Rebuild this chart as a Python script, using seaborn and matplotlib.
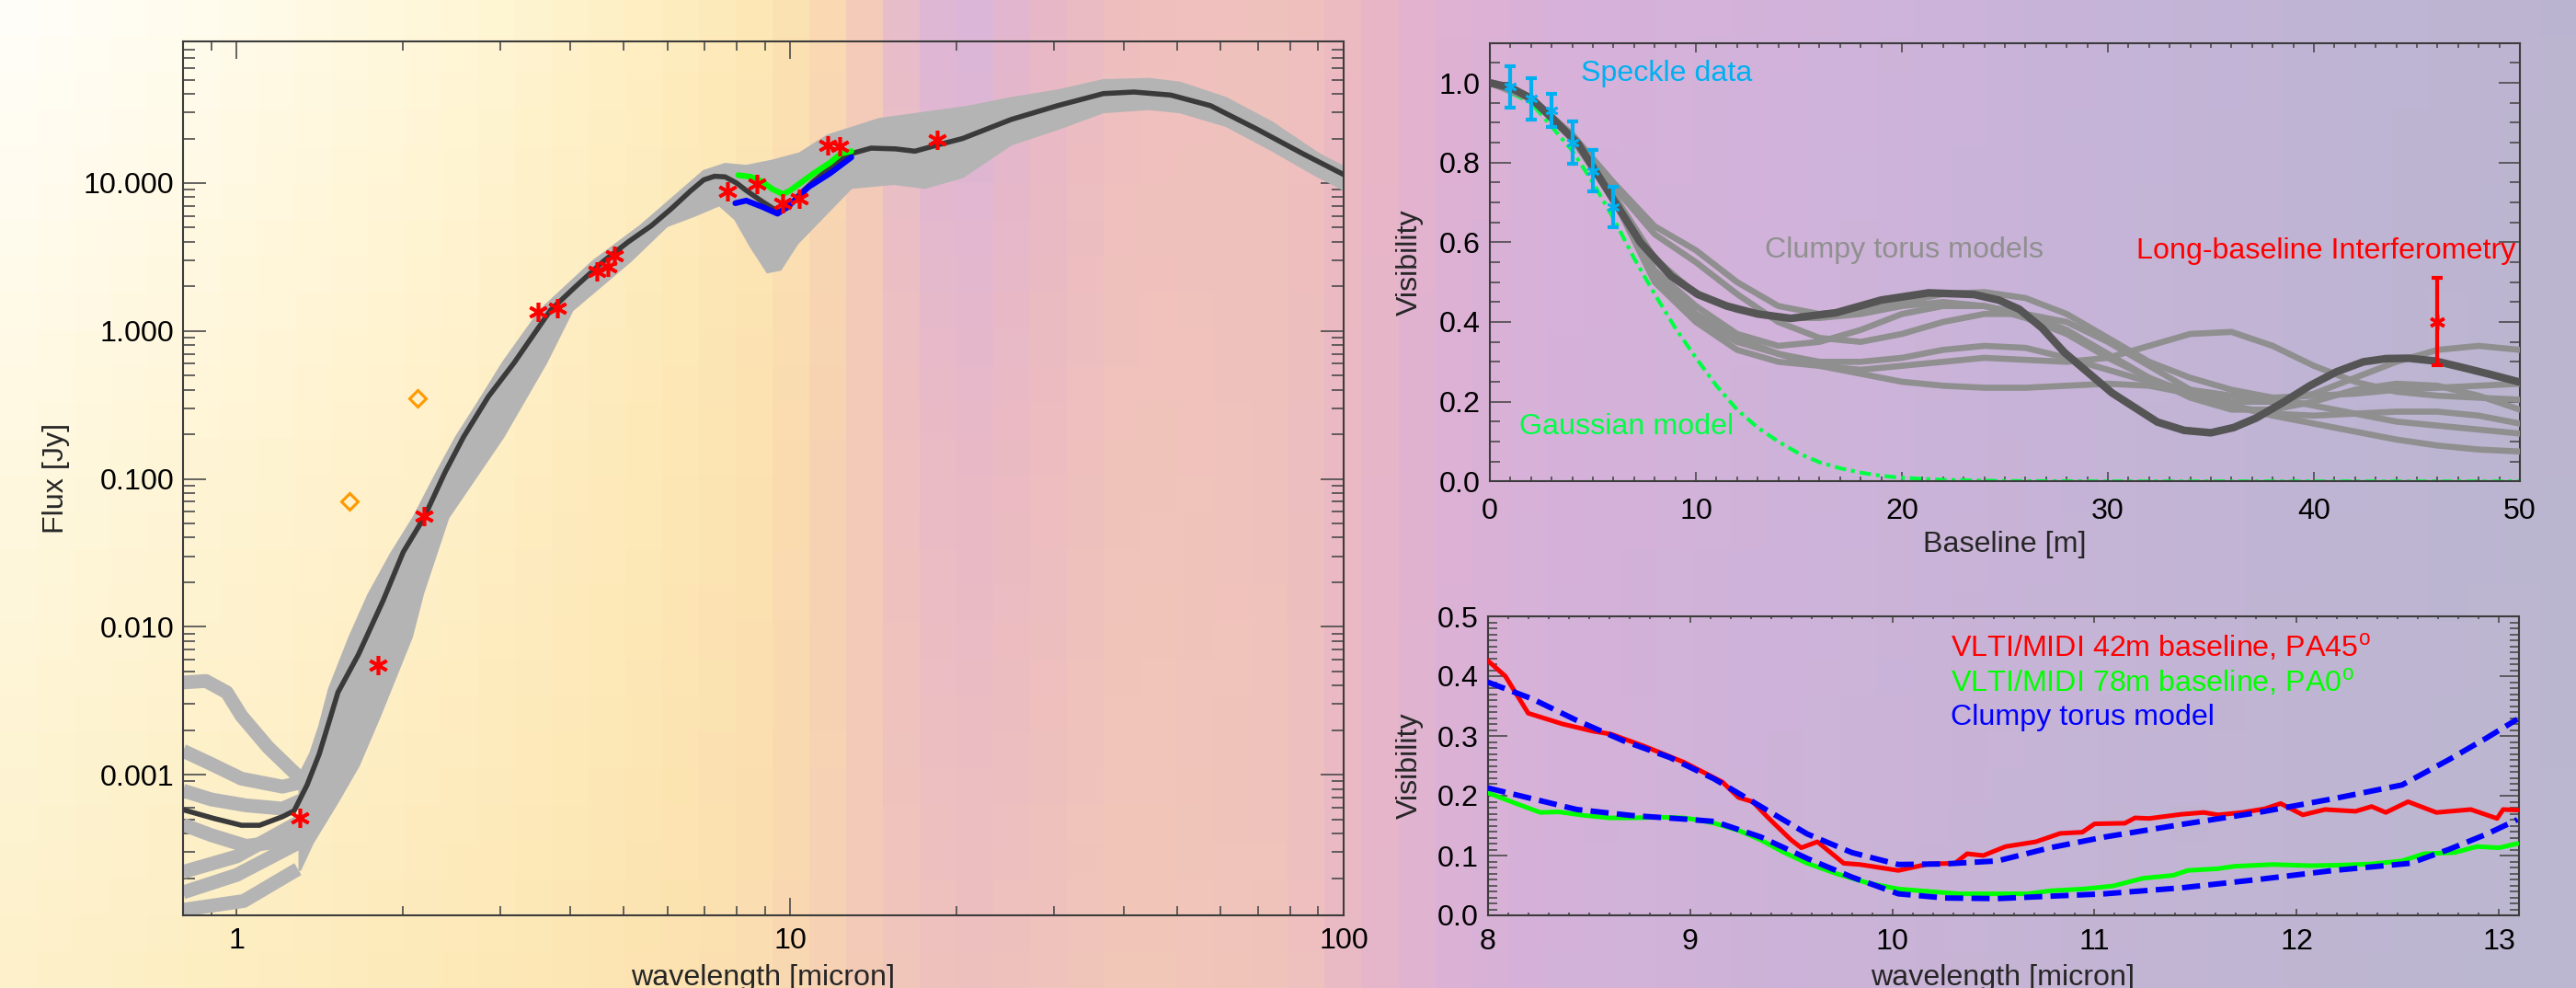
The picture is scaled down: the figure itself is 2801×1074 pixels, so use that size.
import numpy as np
import matplotlib
matplotlib.use("Agg")
import matplotlib.pyplot as plt
from matplotlib.colors import to_rgb
from matplotlib.ticker import (FixedLocator, LogLocator, MultipleLocator,
                               FuncFormatter, NullFormatter)
import seaborn as sns

sns.set_theme(style="ticks")
plt.rcParams['font.family'] = ['Liberation Sans', 'DejaVu Sans']
plt.rcParams['mathtext.fontset'] = 'custom'
plt.rcParams['mathtext.rm'] = 'Liberation Sans'

W, H = 2801, 1074
FS = 23.2

# ---------------- SED panel (left) ----------------
best_wl = [0.80, 0.91, 1.02, 1.10, 1.21, 1.27, 1.34, 1.41, 1.48, 1.524, 1.66, 1.84, 2.00,
           2.18, 2.38, 2.57, 2.85, 3.17, 3.69, 4.10, 4.60, 5.10, 5.61, 6.10, 6.60, 6.98,
           7.30, 7.63, 8.00, 8.33, 8.90, 9.51, 9.90, 10.4, 11.0, 11.6, 12.3, 12.9, 14.0,
           15.5, 16.8, 18.4, 20.5, 25.1, 30.4, 36.8, 41.8, 48.7, 57.5, 69.6, 84.3, 100]
best_flux = [5.8e-4, 5.06e-4, 4.55e-4, 4.55e-4, 5.2e-4, 5.7e-4, 8.5e-4, 1.38e-3, 2.5e-3,
             3.6e-3, 6.5e-3, 0.0151, 0.032, 0.0546, 0.111, 0.192, 0.36, 0.607, 1.38, 2.0,
             2.96, 4.0, 5.13, 6.7, 8.8, 10.5, 11.1, 11.0, 10.0, 8.9, 7.5, 6.4, 6.8, 8.4,
             10.2, 12.0, 14.2, 15.8, 17.2, 17.0, 16.4, 18.0, 20.0, 26.9, 33.3, 40.2, 41.2,
             39.3, 33.3, 23.2, 15.8, 11.4]

band_up_wl = [1.30, 1.36, 1.41, 1.47, 1.60, 1.73, 1.90, 2.09, 2.30, 2.49, 2.75, 3.03, 3.54,
              4.41, 5.37, 6.30, 6.98, 7.63, 8.33, 9.28, 10.4, 11.7, 14.5, 20.9, 25.1, 30.4,
              36.8, 44.5, 50.6, 61.3, 74.2, 89.8, 100]
band_up_flux = [0.0010, 0.0014, 0.0021, 0.0038, 0.0085, 0.0164, 0.031, 0.055, 0.11, 0.19,
                0.34, 0.61, 1.38, 2.96, 5.13, 8.6, 12.0, 13.4, 13.0, 14.1, 15.8, 20.9, 27.0,
                32.6, 37.4, 42.0, 49.4, 50.3, 47.5, 37.4, 25.6, 15.8, 12.8]
band_lo_wl = [100, 97, 89.8, 74.2, 61.3, 50.6, 44.5, 36.8, 30.4, 25.1, 20.5, 17.5, 15.4,
              12.9, 10.3, 9.6, 9.1, 8.5, 7.96, 7.45, 6.7, 5.99, 5.14, 4.04, 3.62, 3.03, 2.41,
              2.17, 2.07, 1.81, 1.66, 1.52, 1.372, 1.30]
band_lo_flux = [9.0, 9.6, 11.1, 16.7, 24.4, 30.2, 31.7, 30.2, 23.2, 18.3, 11.0, 9.3, 9.9,
                9.3, 3.9, 2.6, 2.5, 3.7, 5.7, 7.1, 6.0, 5.13, 2.96, 1.38, 0.607, 0.192, 0.0546,
                0.0168, 0.0085, 0.00245, 0.00115, 0.00065, 0.000347, 0.000225]

# individual models that split apart shortward of 1.3 micron
short_models = [
    ([0.80, 0.88, 0.96, 1.02, 1.14, 1.29, 1.36], [0.0042, 0.0043, 0.0036, 0.0025, 0.00153, 0.00098, 0.0009]),
    ([0.80, 0.90, 1.02, 1.21, 1.33], [0.00145, 0.00118, 0.00094, 0.00083, 0.0009]),
    ([0.80, 0.90, 1.04, 1.21, 1.32], [0.00078, 0.00068, 0.00062, 0.00059, 0.00068]),
    ([0.80, 0.90, 1.04, 1.25, 1.33], [0.00046, 0.00039, 0.00033, 0.00036, 0.00045]),
    ([0.80, 1.00, 1.31], [0.00022, 0.00028, 0.00049]),
    ([0.80, 1.00, 1.30], [0.00016, 0.00021, 0.00035]),
    ([0.80, 1.03, 1.29], [0.000122, 0.00014, 0.00023]),
]

phot_wl = [1.30, 1.80, 2.18, 3.50, 3.80, 4.48, 4.68, 4.81, 7.70, 8.71, 9.71, 10.4, 11.7, 12.3, 18.4]
phot_flux = [5.1e-4, 0.0055, 0.056, 1.34, 1.42, 2.52, 2.73, 3.22, 8.77, 9.89, 7.33, 7.87, 17.9, 17.6, 19.6]
nir_wl = [1.60, 2.12]
nir_flux = [0.0706, 0.351]

midi_tot_wl = [8.06, 8.5, 8.9, 9.28, 9.71, 10.0, 10.4, 11.06, 11.8, 12.35, 12.9]
midi_tot_flux = [11.3, 11.0, 10.2, 9.1, 8.4, 8.9, 9.9, 11.7, 13.7, 15.8, 16.4]
midi_mod_wl = [7.96, 8.33, 8.9, 9.49, 9.9, 10.8, 11.8, 12.9]
midi_mod_flux = [7.3, 7.6, 6.9, 6.2, 6.9, 9.4, 11.6, 14.9]

# ---------------- visibility vs baseline (top right) ----------------
best_base = [0, 1, 2, 2.8, 4.3, 5.8, 7.3, 8.8, 10.1, 11.5, 13, 14.6, 16.8, 19, 21.3, 23.5,
             24.7, 25.7, 26.8, 27.9, 30.2, 32.4, 33.7, 35, 36.1, 37.2, 38.5, 39.8, 41.1,
             42.4, 43.5, 44.6, 45.9, 47.2, 48.6, 50]
best_vis = [1.0, 0.988, 0.961, 0.923, 0.846, 0.723, 0.600, 0.515, 0.469, 0.44, 0.42, 0.409,
            0.423, 0.455, 0.473, 0.469, 0.455, 0.432, 0.385, 0.323, 0.222, 0.149, 0.128,
            0.122, 0.135, 0.159, 0.198, 0.240, 0.275, 0.300, 0.308, 0.309, 0.302, 0.286,
            0.268, 0.249]

model_base = [0, 2, 4, 6, 8, 10, 12, 14, 16, 18, 20, 22, 24, 26, 28, 30, 32, 34, 36, 38, 40,
              42, 44, 46, 48, 50]
model_vis = [
    [1.0, .96, .87, .75, .64, .58, .50, .44, .42, .43, .45, .47, .475, .46, .42, .36, .30, .26, .23, .21, .19, .17, .15, .14, .13, .12],
    [1.0, .96, .86, .71, .52, .42, .36, .32, .29, .28, .29, .30, .31, .305, .30, .31, .34, .37, .375, .34, .29, .25, .225, .215, .21, .205],
    [1.0, .96, .86, .72, .56, .47, .43, .41, .41, .42, .44, .45, .44, .41, .37, .31, .26, .22, .20, .20, .22, .26, .30, .33, .34, .33],
    [1.0, .96, .86, .71, .50, .40, .33, .30, .29, .27, .25, .24, .235, .235, .24, .245, .24, .22, .19, .165, .145, .125, .105, .09, .08, .075],
    [1.0, .96, .87, .74, .62, .55, .47, .40, .36, .35, .37, .40, .42, .42, .40, .35, .29, .23, .19, .17, .165, .17, .175, .175, .165, .145],
    [1.0, .96, .86, .72, .53, .44, .37, .34, .35, .38, .42, .44, .44, .42, .38, .32, .26, .21, .18, .18, .20, .23, .245, .24, .215, .18],
    [1.0, .96, .86, .71, .51, .41, .35, .32, .30, .30, .31, .33, .34, .335, .31, .28, .25, .23, .215, .21, .215, .22, .23, .235, .24, .245],
]

gauss_base = [0, 2, 4, 5, 6, 7, 8, 9, 10, 11, 12, 13, 14, 15, 16, 17, 18, 19, 20, 22, 25, 30, 35, 40, 45, 50]
gauss_vis = [1.0, 0.95, 0.83, 0.75, 0.66, 0.56, 0.47, 0.385, 0.31, 0.24, 0.18, 0.135, 0.10,
             0.07, 0.048, 0.033, 0.022, 0.014, 0.009, 0.004, 0.001, 0, 0, 0, 0, 0]

speckle_base = [1, 2, 3, 4, 5, 6]
speckle_vis = [0.990, 0.960, 0.931, 0.850, 0.779, 0.689]
speckle_err = [0.052, 0.052, 0.042, 0.052, 0.052, 0.051]
lbi_base = [46.0]
lbi_vis = [0.401]
lbi_err = [0.11]

# ---------------- spectrally resolved MIDI visibilities (bottom right) ----------------
v42_wl = [8.0, 8.087, 8.20, 8.37, 8.52, 8.61, 8.78, 8.97, 9.16, 9.24, 9.31, 9.39, 9.50, 9.55,
          9.63, 9.76, 9.84, 10.03, 10.18, 10.31, 10.37, 10.45, 10.56, 10.71, 10.83, 10.94,
          11.0, 11.15, 11.2, 11.27, 11.43, 11.54, 11.61, 11.73, 11.84, 11.92, 12.03, 12.14,
          12.29, 12.37, 12.44, 12.55, 12.69, 12.86, 12.99, 13.02, 13.09]
v42_vis = [0.426, 0.400, 0.338, 0.320, 0.308, 0.303, 0.282, 0.256, 0.223, 0.197, 0.190, 0.162,
           0.126, 0.113, 0.123, 0.087, 0.085, 0.075, 0.086, 0.087, 0.103, 0.100, 0.115, 0.123,
           0.137, 0.139, 0.153, 0.154, 0.163, 0.162, 0.169, 0.172, 0.168, 0.172, 0.178, 0.187,
           0.168, 0.177, 0.174, 0.182, 0.172, 0.190, 0.172, 0.177, 0.162, 0.177, 0.176]
v78_wl = [8.0, 8.14, 8.26, 8.35, 8.48, 8.60, 8.71, 8.86, 8.97, 9.05, 9.12, 9.24, 9.35, 9.46,
          9.58, 9.73, 9.88, 10.03, 10.18, 10.33, 10.48, 10.67, 10.78, 10.94, 11.09, 11.24,
          11.39, 11.46, 11.61, 11.69, 11.88, 12.07, 12.22, 12.37, 12.52, 12.63, 12.78, 12.89,
          13.0, 13.09]
v78_vis = [0.205, 0.187, 0.172, 0.173, 0.167, 0.163, 0.163, 0.164, 0.163, 0.159, 0.154, 0.142,
           0.126, 0.106, 0.087, 0.069, 0.054, 0.044, 0.040, 0.036, 0.036, 0.036, 0.041, 0.044,
           0.049, 0.062, 0.067, 0.075, 0.078, 0.082, 0.085, 0.083, 0.084, 0.086, 0.091, 0.103,
           0.105, 0.115, 0.113, 0.120]
mod42_wl = [8.0, 8.22, 8.44, 8.67, 8.90, 9.12, 9.35, 9.58, 9.80, 10.03, 10.26, 10.52, 10.78,
            11.05, 11.43, 11.81, 12.18, 12.52, 12.75, 12.94, 13.09]
mod42_vis = [0.390, 0.362, 0.326, 0.292, 0.264, 0.228, 0.182, 0.136, 0.105, 0.085, 0.086,
             0.091, 0.113, 0.131, 0.152, 0.172, 0.195, 0.218, 0.260, 0.297, 0.328]
mod78_wl = [8.0, 8.22, 8.44, 8.71, 8.97, 9.12, 9.35, 9.58, 9.80, 10.03, 10.26, 10.52, 10.78,
            11.05, 11.43, 11.81, 12.18, 12.56, 12.75, 12.94, 13.09]
mod78_vis = [0.213, 0.195, 0.177, 0.167, 0.161, 0.157, 0.131, 0.095, 0.064, 0.036, 0.029,
             0.028, 0.032, 0.036, 0.046, 0.060, 0.075, 0.087, 0.110, 0.136, 0.160]

# ---------------- background wash (decoration) ----------------
bg_x = [0.00, 0.08, 0.18, 0.26, 0.30, 0.32, 0.34, 0.355, 0.375, 0.40, 0.44, 0.50, 0.53,
        0.56, 0.60, 0.70, 0.82, 0.92, 1.00]
bg_top = ['#fffefb', '#fffcee', '#fff7d8', '#feeec0', '#fde7b4', '#fadab2', '#f3c8bb',
          '#e2b8d2', '#d9b6dc', '#e6b6ca', '#efbfbf', '#f0c2bc', '#ebb7c4', '#e0b1d3',
          '#d8b1d9', '#d2b3db', '#c6b4d8', '#bfb4d4', '#bbb5d0']
bg_mid = ['#fff9e2', '#fff5d6', '#fff0c8', '#fde8b6', '#fce0b0', '#f8d4b2', '#f2c6ba',
          '#ecbdc4', '#e8b8c8', '#ecbbc2', '#f1c4ba', '#efc1bd', '#e9b6c6', '#ddb1d5',
          '#d6b1d9', '#cfb3da', '#c5b4d7', '#beb5d3', '#bbb6d0']
bg_bot = ['#fdf1ca', '#fdeec2', '#fde9b8', '#fce3b0', '#fadcb0', '#f7d2b3', '#f3c9b8',
          '#f0c4bc', '#eec0bf', '#efc2bc', '#f2c8b8', '#f0c3bb', '#e8b7c8', '#dcb2d6',
          '#d4b2da', '#ccb3d8', '#c3b5d4', '#beb6d1', '#bcb8d0']


def line(ax, x, y, **kw):
    sns.lineplot(x=x, y=y, ax=ax, estimator=None, sort=False, legend=False, **kw)
    return ax.lines[-1]


def style_axes(ax):
    ax.set_facecolor('none')
    for s in ax.spines.values():
        s.set_color('#3c3c3c')
        s.set_linewidth(1.5)
    ax.tick_params(which='both', direction='in', top=True, right=True,
                   colors='#4a4a4a', labelcolor='black', labelsize=FS, width=1.2)


fig = plt.figure(figsize=(W / 100, H / 100), dpi=100)

# background image, blocky like the original
nx, ny = 70, 27
cols = (np.arange(nx) + 0.5) / nx
rows = {}
for name, stops in (('top', bg_top), ('mid', bg_mid), ('bot', bg_bot)):
    rgb = np.array([to_rgb(c) for c in stops])
    rows[name] = np.stack([np.interp(cols, bg_x, rgb[:, k]) for k in range(3)], axis=-1)
img = np.zeros((ny, nx, 3))
for j, fy in enumerate((np.arange(ny) + 0.5) / ny):
    if fy < 0.45:
        t = fy / 0.45
        img[j] = rows['top'] * (1 - t) + rows['mid'] * t
    else:
        t = (fy - 0.45) / 0.55
        img[j] = rows['mid'] * (1 - t) + rows['bot'] * t
bg = fig.add_axes([0, 0, 1, 1], zorder=-5)
bg.imshow(img, aspect='auto', interpolation='nearest', extent=[0, 1, 0, 1])
bg.set_axis_off()

# ---- left: SED ----
axL = fig.add_axes([199 / W, 1 - 995 / H, 1262 / W, 950 / H])
style_axes(axL)
axL.set_xscale('log')
axL.set_yscale('log')
band_gray = '#b4b4b4'
for wl, fl in short_models:
    line(axL, wl, fl, color=band_gray, lw=10.8, solid_capstyle='butt', zorder=2)
axL.fill(np.r_[band_up_wl, band_lo_wl], np.r_[band_up_flux, band_lo_flux],
         color=band_gray, lw=2, zorder=2)
line(axL, best_wl, best_flux, color='#3a3a3a', lw=4.0, zorder=3)
line(axL, midi_tot_wl, midi_tot_flux, color='#00ff00', lw=4.5, zorder=4)
line(axL, midi_mod_wl, midi_mod_flux, color='#0000ff', lw=4.5, zorder=4)
axL.plot(phot_wl, phot_flux, ls='none', marker=(6, 2, 0), ms=15, mew=2.6,
         color='#ff0000', zorder=5)
axL.plot(nir_wl, nir_flux, ls='none', marker='D', ms=9, mfc='none', mec='#ff9900',
         mew=2.2, zorder=5)
axL.set_xlim(0.8, 100)
axL.set_ylim(1.12e-4, 90.6)
axL.xaxis.set_major_locator(FixedLocator([1, 10, 100]))
axL.xaxis.set_minor_locator(LogLocator(base=10, subs=np.arange(2, 10), numticks=30))
axL.yaxis.set_major_locator(FixedLocator([1e-3, 1e-2, 1e-1, 1, 10]))
axL.yaxis.set_minor_locator(LogLocator(base=10, subs=np.arange(2, 10), numticks=30))
axL.xaxis.set_major_formatter(FuncFormatter(lambda v, p: f'{v:g}'))
axL.yaxis.set_major_formatter(FuncFormatter(lambda v, p: f'{v:.3f}'))
axL.xaxis.set_minor_formatter(NullFormatter())
axL.yaxis.set_minor_formatter(NullFormatter())
axL.tick_params(axis='x', which='major', length=13.7, pad=9.4)
axL.tick_params(axis='x', which='minor', length=7.2)
axL.tick_params(axis='y', which='major', length=18, pad=7.2)
axL.tick_params(axis='y', which='minor', length=9.1)
axL.set_xlabel('')
axL.set_ylabel('')

# ---- top right: visibility vs baseline ----
axV = fig.add_axes([1620 / W, 1 - 523.3 / H, 1120 / W, 476.6 / H])
style_axes(axV)
line(axV, gauss_base, gauss_vis, color='#00ff44', lw=3.0,
     linestyle=(0, (3, 1.3, 1, 1.3)), zorder=2)
for v in model_vis:
    line(axV, model_base, v, color='#8f8f8f', lw=4.8, zorder=3)
line(axV, best_base, best_vis, color='#555555', lw=6.0, zorder=4)
axV.errorbar(speckle_base, speckle_vis, yerr=speckle_err, fmt='none', ecolor='#00b0f0',
             elinewidth=3, capsize=4.5, capthick=3, zorder=5)
axV.plot(speckle_base, speckle_vis, ls='none', marker=(6, 2, 0), ms=10, mew=2,
         color='#00b0f0', zorder=5)
axV.errorbar(lbi_base, lbi_vis, yerr=lbi_err, fmt='none', ecolor='#ff0000',
             elinewidth=3, capsize=4.5, capthick=3, zorder=5)
axV.plot(lbi_base, lbi_vis, ls='none', marker=(6, 2, 0), ms=12, mew=2.5,
         color='#ff0000', zorder=5)
axV.text(4.43, 1.004, 'Speckle data', color='#00b0f0', fontsize=FS, va='baseline')
axV.text(13.35, 0.562, 'Clumpy torus models', color='#909090', fontsize=FS, va='baseline')
axV.text(49.8, 0.56, 'Long-baseline Interferometry', color='#ff0000', fontsize=FS,
         va='baseline', ha='right')
axV.text(1.41, 0.119, 'Gaussian model', color='#00ff44', fontsize=FS, va='baseline')
axV.set_xlim(0, 50)
axV.set_ylim(0, 1.1)
axV.xaxis.set_major_locator(MultipleLocator(10))
axV.xaxis.set_minor_locator(MultipleLocator(1))
axV.yaxis.set_major_locator(MultipleLocator(0.2))
axV.yaxis.set_minor_locator(MultipleLocator(0.05))
axV.yaxis.set_major_formatter(FuncFormatter(lambda v, p: f'{v:.1f}'))
axV.tick_params(axis='x', which='major', length=7.2, pad=12.4)
axV.tick_params(axis='x', which='minor', length=3.6)
axV.tick_params(axis='y', which='major', length=16.6, pad=7.2)
axV.tick_params(axis='y', which='minor', length=7.9)
axV.set_xlabel('')
axV.set_ylabel('')

# ---- bottom right: MIDI visibilities ----
axS = fig.add_axes([1617.7 / W, 1 - 995 / H, 1121 / W, 325 / H])
style_axes(axS)
line(axS, v42_wl, v42_vis, color='#ff0000', lw=3.6, zorder=3)
line(axS, v78_wl, v78_vis, color='#00ff00', lw=3.6, zorder=3)
for wl, v in ((mod42_wl, mod42_vis), (mod78_wl, mod78_vis)):
    line(axS, wl, v, color='#0000ff', lw=4.3, linestyle=(0, (3.3, 1.5)), zorder=4)
axS.text(10.29, 0.433, 'VLTI/MIDI 42m baseline, PA45$^\\mathregular{o}$', color='#ff0000',
         fontsize=FS, va='baseline')
axS.text(10.29, 0.374, 'VLTI/MIDI 78m baseline, PA0$^\\mathregular{o}$', color='#00ff00',
         fontsize=FS, va='baseline')
axS.text(10.29, 0.318, 'Clumpy torus model', color='#0000ff', fontsize=FS, va='baseline')
axS.set_xlim(8, 13.097)
axS.set_ylim(0, 0.5)
axS.xaxis.set_major_locator(MultipleLocator(1))
axS.xaxis.set_minor_locator(MultipleLocator(0.1))
axS.yaxis.set_major_locator(MultipleLocator(0.1))
axS.yaxis.set_minor_locator(MultipleLocator(0.01))
axS.xaxis.set_major_formatter(FuncFormatter(lambda v, p: f'{v:.0f}'))
axS.yaxis.set_major_formatter(FuncFormatter(lambda v, p: f'{v:.1f}'))
axS.tick_params(axis='x', which='major', length=5, pad=10)
axS.tick_params(axis='x', which='minor', length=2.5)
axS.tick_params(axis='y', which='major', length=15, pad=7.5)
axS.tick_params(axis='y', which='minor', length=7.5)
axS.set_xlabel('')
axS.set_ylabel('')

# axis titles
fig.text(61 / W, 1 - 520 / H, 'Flux [Jy]', rotation=90, ha='center', va='center', fontsize=FS)
fig.text(1533 / W, 1 - 285 / H, 'Visibility', rotation=90, ha='center', va='center', fontsize=FS)
fig.text(1533 / W, 1 - 832.5 / H, 'Visibility', rotation=90, ha='center', va='center', fontsize=FS)
fig.text(830 / W, 1 - 1071 / H, 'wavelength [micron]', ha='center', va='baseline', fontsize=FS)
fig.text(2178 / W, 1 - 1071 / H, 'wavelength [micron]', ha='center', va='baseline', fontsize=FS)
fig.text(2180 / W, 1 - 600 / H, 'Baseline [m]', ha='center', va='baseline', fontsize=FS)

fig.savefig('out.png', dpi=100)
